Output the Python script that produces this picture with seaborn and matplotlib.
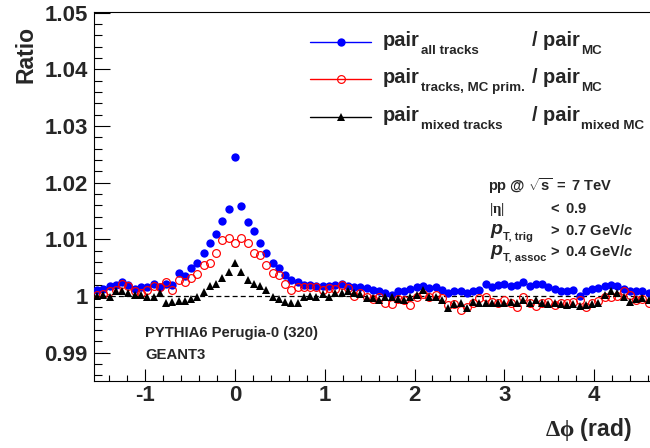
import numpy as np
import pandas as pd
import matplotlib
matplotlib.use('Agg')
import matplotlib.pyplot as plt
from matplotlib.lines import Line2D
from matplotlib.ticker import FixedLocator, FixedFormatter, MultipleLocator
import seaborn as sns

# delta-phi binning: 90 bins from -pi/2 to 3pi/2, points at bin centres
n_bins = 90
edges = np.linspace(-np.pi / 2, 1.5 * np.pi, n_bins + 1)
dphi = 0.5 * (edges[:-1] + edges[1:])

ratio_all = [
    1.0011, 1.0012, 1.0018, 1.0019, 1.0024, 1.0019, 1.0012, 1.0015, 1.0016, 1.0021,
    1.0016, 1.0021, 1.0019, 1.0040, 1.0035, 1.0049, 1.0058, 1.0076, 1.0093, 1.0110,
    1.0132, 1.0153, 1.0245, 1.0158, 1.0131, 1.0114, 1.0093, 1.0075, 1.0059, 1.0050,
    1.0037, 1.0029, 1.0024, 1.0019, 1.0019, 1.0018, 1.0018, 1.0018, 1.0019, 1.0022,
    1.0018, 1.0015, 1.0016, 1.0014, 1.0011, 1.0008, 1.0005, 1.0002, 1.0008, 1.0008,
    1.0012, 1.0015, 1.0018, 1.0014, 1.0016, 1.0011, 1.0006, 1.0009, 1.0008, 1.0005,
    1.0008, 1.0011, 1.0022, 1.0016, 1.0019, 1.0021, 1.0018, 1.0019, 1.0025, 1.0018,
    1.0021, 1.0021, 1.0016, 1.0012, 1.0009, 1.0009, 1.0011, 1.0000, 1.0009, 1.0012,
    1.0014, 1.0018, 1.0019, 1.0018, 1.0012, 1.0008, 1.0008, 1.0009, 1.0005, 1.0008,
]
ratio_prim = [
    1.0002, 1.0004, 1.0008, 1.0011, 1.0021, 1.0018, 1.0008, 1.0005, 1.0011, 1.0018,
    1.0016, 1.0025, 1.0011, 1.0028, 1.0024, 1.0031, 1.0039, 1.0055, 1.0059, 1.0076,
    1.0098, 1.0102, 1.0094, 1.0103, 1.0093, 1.0076, 1.0072, 1.0055, 1.0040, 1.0037,
    1.0022, 1.0011, 1.0016, 1.0015, 1.0015, 1.0015, 1.0011, 1.0014, 1.0012, 1.0019,
    1.0014, 1.0000, 1.0006, 0.9999, 0.9994, 0.9999, 0.9987, 0.9986, 0.9994, 0.9993,
    0.9984, 0.9999, 1.0004, 0.9999, 1.0002, 0.9996, 0.9984, 0.9986, 0.9975, 0.9981,
    0.9988, 0.9996, 0.9999, 0.9990, 0.9987, 0.9993, 0.9988, 0.9981, 0.9999, 0.9988,
    0.9982, 0.9987, 0.9990, 0.9984, 0.9987, 0.9988, 0.9990, 0.9993, 0.9981, 0.9987,
    0.9992, 0.9999, 0.9998, 1.0000, 1.0008, 1.0002, 0.9993, 0.9994, 0.9988, 0.9990,
]
ratio_mixed = [
    1.0000, 1.0002, 0.9999, 1.0008, 1.0008, 1.0006, 1.0001, 1.0001, 0.9998, 0.9999,
    1.0006, 0.9988, 0.9990, 0.9992, 0.9992, 0.9994, 0.9999, 1.0007, 1.0017, 1.0022,
    1.0031, 1.0043, 1.0058, 1.0043, 1.0029, 1.0022, 1.0018, 1.0011, 0.9998, 0.9994,
    0.9990, 0.9988, 0.9988, 0.9998, 1.0000, 0.9999, 1.0004, 0.9999, 1.0006, 1.0006,
    1.0008, 1.0005, 1.0004, 0.9996, 0.9996, 0.9993, 0.9998, 0.9999, 0.9994, 0.9993,
    0.9999, 1.0002, 1.0011, 0.9999, 0.9999, 0.9993, 0.9978, 0.9986, 0.9987, 0.9978,
    0.9990, 0.9987, 0.9987, 0.9987, 0.9988, 0.9987, 0.9990, 0.9987, 0.9993, 0.9987,
    0.9993, 0.9987, 0.9986, 0.9987, 0.9986, 0.9984, 0.9986, 0.9982, 0.9984, 0.9986,
    0.9988, 1.0002, 1.0008, 1.0006, 0.9999, 0.9990, 0.9994, 0.9996, 0.9993, 0.9995,
]

x_ticks = [-1, 0, 1, 2, 3, 4]
x_tick_labels = ['-1', '0', '1', '2', '3', '4']
y_ticks = [0.99, 1.00, 1.01, 1.02, 1.03, 1.04, 1.05]
y_tick_labels = ['0.99', '1', '1.01', '1.02', '1.03', '1.04', '1.05']

legend_num_sub = ['all tracks', 'tracks, MC prim.', 'mixed tracks']
legend_den_sub = ['MC', 'MC', 'mixed MC']

sns.set_style('ticks')
plt.rcParams['font.family'] = ['Liberation Sans', 'DejaVu Sans']
plt.rcParams['font.weight'] = 'bold'
plt.rcParams['mathtext.fontset'] = 'custom'
plt.rcParams['mathtext.rm'] = 'Liberation Serif'
plt.rcParams['mathtext.it'] = 'Liberation Serif'
plt.rcParams['mathtext.bf'] = 'Liberation Sans:bold'
plt.rcParams['mathtext.bfit'] = 'Liberation Sans:bold:italic'

W, H = 650, 448
fig = plt.figure(figsize=(6.5, 4.48), dpi=100)
fig.patch.set_facecolor('white')
# right edge of the frame is cut off by the image border
ax = fig.add_axes([94 / W, 1 - 381 / H, (658 - 94) / W, (381 - 12) / H])

df = pd.DataFrame({'dphi': dphi, 'all': ratio_all, 'prim': ratio_prim, 'mixed': ratio_mixed})

ax.axhline(1.0, color='black', lw=0.9, ls=(0, (4, 2.5)), zorder=1)

styles = [
    ('all', dict(marker='o', color='blue', markerfacecolor='blue', markeredgecolor='blue',
                 markersize=6.0, markeredgewidth=0)),
    ('prim', dict(marker='o', color='red', markerfacecolor='none', markeredgecolor='red',
                  markersize=5.6, markeredgewidth=0.85)),
    ('mixed', dict(marker='^', color='black', markerfacecolor='black', markeredgecolor='black',
                   markersize=6.2, markeredgewidth=0)),
]
for z, (col, kw) in enumerate(styles):
    sns.lineplot(data=df, x='dphi', y=col, ax=ax, linestyle='none', errorbar=None,
                 zorder=3 + z, **kw)

ax.set_xlim(-np.pi / 2, 1.5 * np.pi)
ax.set_ylim(0.985, 1.0501)
ax.xaxis.set_major_locator(FixedLocator(x_ticks))
ax.xaxis.set_major_formatter(FixedFormatter(x_tick_labels))
ax.xaxis.set_minor_locator(MultipleLocator(0.2))
ax.yaxis.set_major_locator(FixedLocator(y_ticks))
ax.yaxis.set_major_formatter(FixedFormatter(y_tick_labels))
ax.yaxis.set_minor_locator(MultipleLocator(0.002))
ax.tick_params(axis='both', which='both', direction='in', top=False, right=False,
               width=0.8, color='black', labelsize=16)
ax.tick_params(axis='y', which='major', length=11.5, pad=4.5)
ax.tick_params(axis='y', which='minor', length=5.8)
ax.tick_params(axis='x', which='major', length=8.6, pad=3)
ax.tick_params(axis='x', which='minor', length=4.3)
for lab in ax.get_xticklabels() + ax.get_yticklabels():
    lab.set_fontweight('bold')
for sp in ax.spines.values():
    sp.set_linewidth(0.8)
    sp.set_color('black')
ax.set_xlabel('')
ax.set_ylabel('')

# axis titles
fig.text(26 / W, 1 - 26 / H, 'Ratio', rotation=90, ha='center', va='top',
         fontsize=16.5, fontweight='bold')
fig.text(632 / W, 1 - 436 / H, r'$\Delta\mathrm{\phi}\ \mathbf{(rad)}$', ha='right',
         va='baseline', fontsize=16.5)

renderer = fig.canvas.get_renderer()


def word_with_sub(x_px, base_px, word, sub, size=14.4, sub_size=9.6, drop=8):
    """'word' followed by a lowered subscript, ROOT TLatex style."""
    t = fig.text(x_px / W, 1 - base_px / H, word, fontsize=size, fontweight='bold',
                 va='baseline', ha='left')
    x_end = t.get_window_extent(renderer).x1
    fig.text(x_end / W + 1 / W, 1 - (base_px + drop) / H, sub, fontsize=sub_size,
             fontweight='bold', va='baseline', ha='left')


# legend, drawn by hand in ROOT style
row_y = [41.7, 79.3, 117.3]
for i, (col, kw) in enumerate(styles):
    y = 1 - row_y[i] / H
    fig.add_artist(Line2D([310 / W, 371 / W], [y, y], color=kw['color'], lw=1))
    fig.add_artist(Line2D([341 / W], [y], linestyle='none', **kw))
    word_with_sub(383, row_y[i] + 4, 'pair', legend_num_sub[i])
    word_with_sub(532, row_y[i] + 4, '/ pair', legend_den_sub[i])

# collision info box
fig.text(488 / W, 1 - 191 / H, r'$\mathbf{pp\ @\ }\sqrt{\mathbf{s}}\mathbf{\ =\ 7\ TeV}$',
         fontsize=10.5, va='baseline')
fig.text(489 / W, 1 - 213 / H, r'$|\eta|$', fontsize=10.5, va='baseline')
fig.text(548 / W, 1 - 213 / H, r'$\mathbf{<\ 0.9}$', fontsize=10.5, va='baseline')
fig.text(490 / W, 1 - 234 / H, r'$\mathbfit{p}$', fontsize=14, va='baseline')
fig.text(503 / W, 1 - 240 / H, 'T, trig', fontsize=8, fontweight='bold', va='baseline')
fig.text(548 / W, 1 - 235 / H, r'$\mathbf{>\ 0.7\ GeV/}\mathbfit{c}$', fontsize=10.5, va='baseline')
fig.text(490 / W, 1 - 255 / H, r'$\mathbfit{p}$', fontsize=14, va='baseline')
fig.text(503 / W, 1 - 261 / H, 'T, assoc', fontsize=8, fontweight='bold', va='baseline')
fig.text(548 / W, 1 - 256 / H, r'$\mathbf{>\ 0.4\ GeV/}\mathbfit{c}$', fontsize=10.5, va='baseline')

fig.text(145 / W, 1 - 337 / H, 'PYTHIA6 Perugia-0 (320)', fontsize=10.7, fontweight='bold',
         va='baseline')
fig.text(145 / W, 1 - 359 / H, 'GEANT3', fontsize=10.7, fontweight='bold', va='baseline')

fig.savefig('out.png', dpi=100, facecolor='white')
